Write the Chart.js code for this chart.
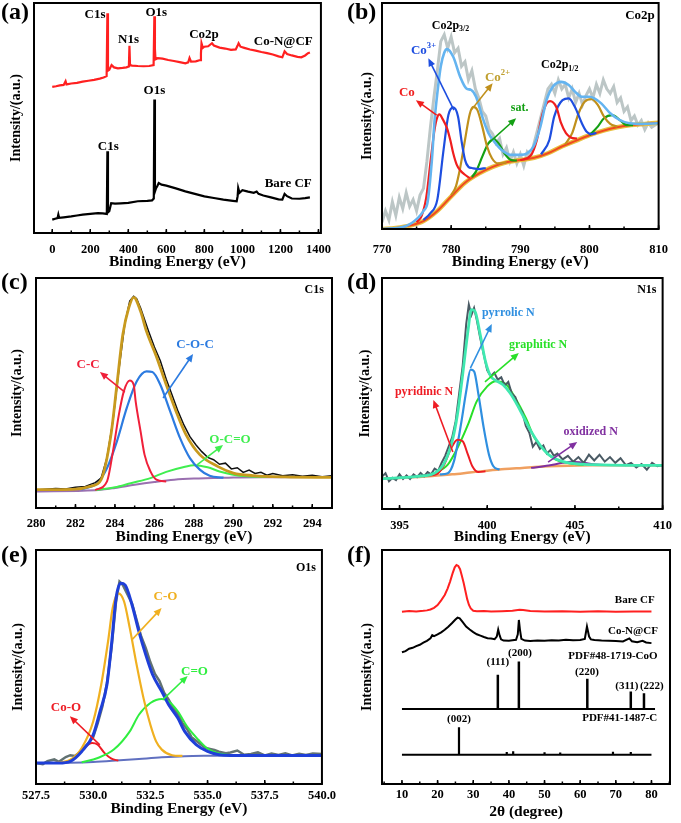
<!DOCTYPE html>
<html>
<head>
<meta charset="utf-8">
<script src="https://cdn.jsdelivr.net/npm/chart.js@4.4.1/dist/chart.umd.min.js"></script>
<style>
body { margin: 0; background: #fff; width: 681px; height: 823px; position: relative; overflow: hidden; }
canvas { position: absolute; }
</style>
</head>
<body>
<canvas id="pa" width="340" height="272" style="left:0;top:0"></canvas>
<canvas id="pb" width="341" height="272" style="left:340px;top:0"></canvas>
<canvas id="pc" width="340" height="280" style="left:0;top:265px"></canvas>
<canvas id="pd" width="341" height="280" style="left:340px;top:265px"></canvas>
<canvas id="pe" width="340" height="285" style="left:0;top:538px"></canvas>
<canvas id="pf" width="341" height="285" style="left:340px;top:538px"></canvas>
<script>
// ---------- data (binding energy / 2theta, relative intensity 0-100) ----------

// (a) survey
const surveyCoN = [[0,63.5],[20,63.8],[40,64.2],[60,64.4],[70,66],[75,64.6],[100,65],[130,65.3],[160,65.8],[190,66.2],[220,66.6],[250,67.1],[270,67.6],[286,68.2],[290,95.5],[293,70.6],[300,71],[312,73],[325,72],[345,71.6],[370,71.8],[390,72],[403,72.4],[406,81.4],[409,73],[420,72.8],[450,72.6],[480,72.5],[510,72.6],[533,73],[537,94.2],[540,80],[543,75.5],[555,76],[580,75.8],[610,75.2],[640,74.8],[670,74.3],[700,73.8],[715,74.2],[722,76.1],[730,74.5],[755,74.6],[778,75.2],[782,78],[785,82.5],[792,80.5],[800,81],[820,81.2],[840,82.5],[850,81.5],[880,80.6],[910,80.2],[940,79.6],[965,79.8],[975,81.5],[980,82.5],[990,81],[1010,80.5],[1040,79.8],[1070,79.3],[1100,78.7],[1130,78.2],[1160,77.6],[1190,76.8],[1210,76.4],[1222,79],[1235,77.8],[1260,77.2],[1290,76.6],[1310,76.4],[1330,77.2],[1345,78.2],[1355,78.5]];
const surveyBare = [[0,5.8],[15,6.2],[28,6.5],[32,8],[36,6.6],[60,6.8],[100,7.2],[130,7.6],[160,8],[200,8.3],[240,8.6],[265,8.5],[287,8.3],[290,35.5],[293,9],[300,9.5],[310,13],[330,12.8],[360,12.9],[400,13.1],[450,13.8],[500,14],[525,14.2],[534,15],[537,58],[540,18],[546,19.5],[552,20.3],[560,21.7],[575,21],[600,20.6],[650,19.4],[700,18.1],[750,17],[800,15.9],[850,15.2],[900,14.5],[950,14],[970,13.8],[975,16],[978,19.6],[985,17.5],[1000,18.6],[1030,18],[1060,17.5],[1075,18],[1085,17],[1110,16.3],[1150,15.5],[1190,14.6],[1210,14.5],[1222,17],[1235,16],[1260,15],[1300,14.9],[1330,15.2],[1355,15.5]];

// (b) Co2p
const co2pRaw = [[770,3],[770.5,8],[771,4],[771.5,12],[772,6],[772.5,14],[773,9],[773.5,16],[774,10],[774.5,13],[775,8],[775.5,15],[776,18],[776.5,30],[777,45],[777.5,58],[778,70],[778.5,83],[779,86],[779.5,80],[780,85],[780.5,78],[781,80],[781.5,72],[782,74],[782.5,66],[783,70],[783.5,62],[784,58],[784.5,52],[785,50],[785.5,44],[786,42],[786.5,38],[787,40],[787.5,33],[788,36],[788.5,30],[789,34],[789.5,29],[790,33],[790.5,28],[791,34],[791.5,32],[792,38],[792.5,44],[793,50],[793.5,56],[794,62],[794.5,64],[795,60],[795.5,66],[796,62],[796.5,64],[797,58],[797.5,62],[798,56],[798.5,60],[799,55],[799.5,59],[800,62],[800.5,58],[801,64],[801.5,60],[802,66],[802.5,62],[803,60],[803.5,63],[804,56],[804.5,58],[805,52],[805.5,54],[806,48],[806.5,50],[807,46],[807.5,48],[808,44],[808.5,47],[809,45],[809.5,46],[810,47]];
const co2pFit = [[770,0],[773.4,1.2],[775.2,4.9],[776,8],[776.6,12],[777.2,30],[777.6,48],[778,60],[778.5,72],[779,78],[779.4,79.6],[780.3,76.2],[781.3,67.4],[782.2,62.2],[782.9,61.5],[783.6,58.5],[784.5,49.7],[785.4,42.4],[786.4,38],[787.3,35],[788.7,32.8],[790,32.8],[791,33.5],[791.9,36.5],[792.9,45.3],[793.8,57.1],[794.7,62.9],[795.9,65.1],[797,63.7],[797.9,60.8],[798.9,58.5],[800,58.5],[800.7,57.8],[801.7,55.6],[803,51.2],[804.4,48.2],[805.8,46.8],[807.7,46.5],[810,46.8]];
const co2pBg = [[770,0],[772,0.5],[774,1.5],[776,3.5],[778,8],[780,14.4],[782,20.5],[784,24.5],[786,27.5],[788,29.5],[790,30.5],[792,31.5],[794,33.5],[796,36.5],[798,39],[800,41.5],[802,43.5],[804,45],[806,46],[808,46.5],[810,47]];
const coMetal32 = [[775,3],[775.7,5.6],[776.4,14],[777.1,32],[777.6,44],[778,49.5],[778.3,50.7],[778.8,48.5],[779.4,44.6],[779.9,39],[780.3,33.5],[780.8,28.5],[781.3,26],[782,24],[782.7,22.5]];
const co3Plus32 = [[776,4],[777,7],[778,13],[778.9,35],[779.6,50.4],[780.3,53.8],[781,49.7],[781.5,39],[782,30.6],[782.5,27.5],[783,27],[784,26.5],[785,27]];
const co2Plus32 = [[780,15],[780.7,19],[781.3,27],[782,39.4],[782.7,51],[783.2,54],[783.8,52.6],[784.5,45.3],[785.2,36.5],[785.9,31.3],[786.8,29],[788,29.5]];
const coSat32 = [[783,23],[783.6,25.5],[784.5,32],[785.4,38],[786.2,39.7],[787,37.2],[787.7,33.5],[788.7,30.5],[789.5,30.3]];
const coMetal12 = [[790,30.5],[791.5,32.5],[792.4,39.4],[793.1,49.7],[793.8,55.6],[794.3,56.6],[795.2,54],[795.9,46.8],[796.6,42.4],[797.3,40.5],[798.2,40]];
const co3Plus12 = [[793,33],[794.2,39.4],[794.9,49.7],[796.1,57],[797,57.8],[797.9,54],[798.9,46.8],[799.6,43],[800.3,42],[801,42.5]];
const co2Plus12 = [[796.5,37.5],[797.5,42.4],[798.4,51],[799.3,56.3],[800.3,57.5],[801.2,54.9],[802.1,49.7],[803,46.5],[804,45.3]];
const coSat12 = [[800,41.5],[801.2,45.3],[802.1,49],[803.3,50.4],[804.4,48.2],[805.4,46],[806.3,46]];

// (c) C1s
const c1sRaw = [[280,7.8],[280.5,8.2],[281,8.5],[281.5,8.3],[282,9],[282.5,9.4],[283,11],[283.3,13],[283.6,22],[283.9,38],[284.2,60],[284.5,80],[284.75,90],[284.95,92],[285.1,91],[285.3,87],[285.5,82],[285.7,77],[286,70],[286.3,64],[286.6,56],[286.9,49],[287.2,42],[287.5,36],[287.8,31],[288.1,27.5],[288.4,24.5],[288.7,22],[289,21],[289.3,19],[289.6,19.5],[289.9,17],[290.2,17.5],[290.5,15.5],[290.8,16.5],[291.1,15],[291.4,15.5],[291.7,14.3],[292,15],[292.5,14],[293,14.5],[293.5,13.8],[294,14.2],[294.5,13.6],[295,14]];
const c1sFit = [[280,8],[281,8],[282,8.2],[282.8,9.5],[283.3,12.3],[283.8,31.9],[284.1,53.6],[284.4,75.4],[284.7,87],[284.95,91.6],[285.3,85.5],[285.6,76.8],[286.1,65.9],[286.6,53.6],[287.1,42],[287.6,31.9],[288.3,23.2],[289.2,18.1],[290,15.2],[291,14.1],[292.6,13.5],[295,13.3]];
const c1sBg = [[280,7.2],[283,7.7],[284,8.7],[285,10.1],[286,11.3],[287,12.3],[288,12.8],[289,13],[290,13.3],[292,13.4],[295,13.5]];
const cc = [[283,7.8],[283.6,11.6],[283.9,24.6],[284.2,40.6],[284.45,50.7],[284.75,55.4],[284.95,53.6],[285.05,46.4],[285.3,33.3],[285.5,23.2],[285.8,15.9],[286.1,12.3],[286.6,11.5]];
const coc = [[282.3,8],[283.1,10.9],[283.6,17.4],[284.1,29],[284.6,43.5],[285.1,55],[285.6,59.4],[285.9,59.1],[286.3,53.6],[286.8,42],[287.3,30.4],[287.8,21.7],[288.3,16.7],[288.8,14],[289.5,13.2]];
const oco = [[283,7.8],[284,9],[284.8,10.8],[285.8,13],[286.6,15.7],[287.5,17.8],[288,18.6],[288.7,17.7],[289.3,15.9],[290,14.5],[290.7,13.8],[291.7,13.5]];

// (d) N1s
const n1sRaw = [[394,14],[394.2,15.5],[394.4,12],[394.6,13.5],[394.8,12.5],[395,15],[395.2,13],[395.4,14.5],[395.6,13],[395.8,15],[396,13.8],[396.2,15.6],[396.4,14.2],[396.6,16],[396.8,15],[397,17.5],[397.2,16.5],[397.4,20],[397.6,23],[397.8,27],[398,31],[398.2,38],[398.4,50],[398.6,62],[398.8,80],[398.95,88.5],[399.1,84],[399.25,87],[399.4,82],[399.6,74],[399.8,67],[400,60],[400.2,57.5],[400.4,59],[400.6,56],[400.8,57],[401,53.5],[401.2,55],[401.4,50],[401.6,48.5],[401.8,44],[402,42],[402.2,36],[402.4,33],[402.6,27],[402.8,29],[403,26],[403.2,27.5],[403.4,24],[403.6,25.5],[403.8,23],[404,24],[404.3,21.5],[404.6,23],[404.9,20.5],[405.2,22.5],[405.5,20],[405.8,23.5],[406.1,21],[406.4,23.5],[406.7,20.5],[407,22.5],[407.3,20],[407.6,22],[407.9,19],[408.2,20],[408.5,18],[408.8,19.5],[409.1,17],[409.4,20],[409.7,18.5],[410,19]];
const n1sFit = [[394,13.1],[396,14.1],[397,15.6],[397.5,19.2],[398,29.3],[398.3,40.8],[398.6,58.2],[398.9,76.9],[399.1,86.3],[399.3,85.6],[399.6,75.5],[399.9,63.9],[400.2,57.4],[400.5,55.6],[400.9,53.8],[401.3,50.2],[401.7,45.2],[402.1,39.4],[402.5,33.6],[403,27.8],[403.5,23.5],[404,21.4],[404.5,20.2],[405,19.6],[406,19.2],[408,18.9],[410,18.9]];
const n1sBg = [[394,13.2],[395,13.4],[396,13.8],[397,14.4],[398,15],[399,15.8],[400,16.6],[401,17.3],[402,17.8],[403,18.3],[404,18.6],[406,18.9],[410,18.9]];
const pyridinicN = [[396.6,14.5],[397.1,15],[397.5,18.5],[397.95,26.4],[398.3,30],[398.6,29.3],[398.9,23.5],[399.15,18.5],[399.5,16],[399.9,16.3]];
const pyrrolicN = [[397.3,15],[397.75,15.5],[398.1,20.6],[398.5,36.5],[398.8,50.9],[399.05,60.3],[399.25,59.6],[399.5,49.5],[399.8,35.1],[400.1,23.5],[400.35,18.5],[400.7,17]];
const graphiticN = [[396.5,14.3],[397,15.5],[397.75,19.2],[398.3,26.4],[398.9,36.5],[399.4,46.6],[400,53.1],[400.5,55.3],[401.1,53.8],[401.6,48],[402.2,39.4],[402.7,30.7],[403.3,25],[403.85,21.6],[404.6,19.9],[405.5,19]];
const oxidizedN = [[402.5,17.8],[403.5,18.8],[404.3,20],[404.8,20.5],[405.4,20.1],[406.2,19.3],[407,19]];

// (e) O1s
const o1sRaw = [[527.5,9],[527.8,8.5],[528,9.8],[528.3,10.5],[528.5,9.5],[528.8,11.5],[529,12.3],[529.2,12],[529.4,13.5],[529.6,15.5],[529.8,17.5],[530,20],[530.2,26],[530.4,33],[530.6,43],[530.8,58],[531,78],[531.15,86.5],[531.3,85],[531.5,81],[531.7,77],[531.9,70],[532.1,63],[532.3,58],[532.5,52],[532.7,47],[532.9,44],[533.1,39],[533.3,36],[533.5,32.5],[533.7,30],[533.9,26],[534.1,23.5],[534.3,20],[534.5,18.5],[534.7,17],[534.9,15.5],[535.1,15],[535.3,14.5],[535.5,13.8],[535.8,13.2],[536,13.5],[536.3,14.3],[536.6,12.5],[536.9,12.8],[537.2,13.5],[537.5,12.2],[537.8,13],[538.1,12.4],[538.4,13.1],[538.7,12.2],[539,12.9],[539.3,12.4],[539.6,13],[540,12.8]];
const o1sFit = [[527.5,9],[528.5,9],[529,9.7],[529.5,13.9],[530,21],[530.3,31],[530.6,42.4],[530.8,59.5],[531,79.4],[531.2,85.8],[531.4,85],[531.7,76.5],[532,65.1],[532.3,55.2],[532.6,46.7],[533,39.5],[533.3,33.9],[533.7,28.2],[534,22.5],[534.5,16.8],[535,13.9],[535.5,12.5],[536,12.2],[537,12.2],[540,12.2]];
const o1sBg = [[527.5,9],[529,9.1],[530,9.4],[531,10],[532,10.7],[533,11.4],[534,11.9],[535,12.1],[536,12.2],[540,12.2]];
const coO = [[528.8,9.2],[529.2,11.1],[529.6,15.4],[529.95,17.5],[530.2,16.8],[530.5,13.2],[530.8,10.8],[531.1,10]];
const cO = [[528.3,9],[529,10.4],[529.5,15.4],[530,26.7],[530.35,42.4],[530.65,60.9],[530.85,75.1],[531.1,81.5],[531.35,78],[531.6,66.6],[531.9,50.9],[532.2,36.7],[532.5,25.3],[532.75,18.2],[533,14.7],[533.45,12.3],[533.9,12]];
const cDoubleO = [[529.5,9.3],[530.2,11.1],[530.9,14.7],[531.6,22.5],[532,29.6],[532.5,34.6],[533,36.3],[533.3,35.3],[533.7,31],[534.1,24.6],[534.6,18.9],[535,15.1],[535.6,12.8],[536.1,12.2]];

// (f) XRD
const xrdBare = [[10,73.6],[12,73.9],[14,73.7],[16,74],[17,74.2],[18,74.6],[19,75.3],[20,76.5],[21,78.5],[22,80.8],[22.8,83.5],[23.5,86.5],[24.2,90],[24.8,92.6],[25.3,93.6],[25.8,93.2],[26.3,91.8],[26.8,89],[27.3,86],[27.8,82.5],[28.3,79],[28.8,76.5],[29.3,75],[30,74],[31,73.8],[33,73.9],[35,73.7],[38,73.8],[41,74],[43,74.5],[44,74.4],[46,73.9],[50,73.7],[55,73.8],[60,73.6],[65,73.8],[70,73.6],[75,73.7],[80,73.7]];
const xrdCoN = [[10,56.3],[11,56.8],[12,57.8],[13,58.2],[14,58.9],[15,59.5],[16,60.4],[17,61.2],[18,62.3],[18.5,63.6],[19,63.2],[20,63.9],[21,64.8],[22,65.9],[23,67.2],[24,68.7],[25,70.3],[25.6,71.1],[26.2,70.8],[27,69.3],[28,67.3],[29,66],[30,64.9],[31,64],[32,63.4],[33,62.8],[34,62.3],[35,62.2],[36,61.9],[36.6,63],[37,66],[37.4,63.5],[37.8,61.8],[38.5,61.3],[40,61.2],[41,61.4],[42,61.6],[42.5,64],[42.8,70.1],[43.1,66],[43.5,62],[44.5,61.3],[46,61.1],[48,61.3],[50,61.2],[52,61.4],[54,61.3],[56,61.6],[58,61.4],[60,61.5],[61.3,62],[61.9,67.3],[62.5,63],[63,61.8],[64,61.5],[66,61.3],[68,61.2],[70,61.1],[72,60.9],[73.8,62.2],[74.5,61],[76,60.6],[77.5,61.2],[78.5,60.5],[80,60.2]];
const coOPos = [36.9, 42.8, 62.0, 74.2, 77.9];
const coOTop = [46.7, 52.3, 45.0, 39.5, 38.8];
const coOBase = 32;
const coOLine = [[10,32],[81,32]];
const carbonPos = [26.0, 39.4, 41.2, 50.0, 54.4, 69.2, 74.2];
const carbonTop = [24.2, 13.7, 14.0, 13.6, 13.5, 13.8, 13.7];
const carbonBase = 12.5;
const carbonLine = [[10,12.5],[80,12.5]];

// ---------- drawing helpers ----------
const SERIF = '"Liberation Serif", "Times New Roman", serif';

function curve(pts, color, width, smooth)
{
    return {
        data: pts.map(p => ({ x: p[0], y: p[1] })),
        borderColor: color,
        borderWidth: width,
        pointRadius: 0,
        fill: false,
        tension: smooth ? 0.4 : 0,
        cubicInterpolationMode: smooth ? "monotone" : "default"
    };
}

function sticks(pos, top, base, color, width)
{
    let data = [];
    pos.forEach((x, i) => {
        data.push({ x: x, y: base });
        data.push({ x: x, y: top[i] });
        data.push({ x: x, y: null });
    });
    return { data: data, borderColor: color, borderWidth: width, pointRadius: 0, fill: false, spanGaps: false };
}

function txt(s, x, y, color, size)
{
    return { parts: Array.isArray(s) ? s : [[s, 0]], x: x, y: y, color: color, size: size };
}

function drawRich(ctx, parts, x, y, size, color)
{
    let w = 0;
    parts.forEach(p => {
        ctx.font = "bold " + (p[1] ? size * 0.66 : size) + "px " + SERIF;
        w += ctx.measureText(p[0]).width;
    });
    let cx = x - w / 2;
    ctx.fillStyle = color;
    ctx.textAlign = "left";
    ctx.textBaseline = "middle";
    parts.forEach(p => {
        let s = p[1] ? size * 0.66 : size;
        ctx.font = "bold " + s + "px " + SERIF;
        let dy = p[1] === 1 ? -size * 0.35 : (p[1] === -1 ? size * 0.3 : 0);
        ctx.fillText(p[0], cx, y + dy);
        cx += ctx.measureText(p[0]).width;
    });
}

function drawArrow(ctx, x1, y1, x2, y2, color)
{
    let ang = Math.atan2(y2 - y1, x2 - x1), L = 8, W = 3.5;
    ctx.strokeStyle = color;
    ctx.lineWidth = 1.6;
    ctx.beginPath();
    ctx.moveTo(x1, y1);
    ctx.lineTo(x2 - Math.cos(ang) * L * 0.7, y2 - Math.sin(ang) * L * 0.7);
    ctx.stroke();
    ctx.fillStyle = color;
    ctx.beginPath();
    ctx.moveTo(x2, y2);
    ctx.lineTo(x2 - L * Math.cos(ang) + W * Math.sin(ang), y2 - L * Math.sin(ang) - W * Math.cos(ang));
    ctx.lineTo(x2 - L * Math.cos(ang) - W * Math.sin(ang), y2 - L * Math.sin(ang) + W * Math.cos(ang));
    ctx.closePath();
    ctx.fill();
}

const deco = {
    id: "deco",
    afterDraw(chart, args, o)
    {
        const ctx = chart.ctx, a = chart.chartArea;
        const sx = chart.scales.x, sy = chart.scales.y;
        ctx.save();
        (o.arrows || []).forEach(r => drawArrow(ctx,
            sx.getPixelForValue(r[0]), sy.getPixelForValue(r[1]),
            sx.getPixelForValue(r[2]), sy.getPixelForValue(r[3]), r[4]));
        (o.texts || []).forEach(t => drawRich(ctx, t.parts,
            sx.getPixelForValue(t.x), sy.getPixelForValue(t.y), t.size, t.color));

        // frame
        ctx.strokeStyle = "#000";
        ctx.lineWidth = 2;
        ctx.strokeRect(a.left, a.top, a.right - a.left, a.bottom - a.top);

        // inward ticks on the bottom axis
        ctx.lineWidth = 1.5;
        sx.ticks.forEach(t => {
            let p = sx.getPixelForValue(t.value);
            ctx.beginPath(); ctx.moveTo(p, a.bottom); ctx.lineTo(p, a.bottom - 4); ctx.stroke();
        });
        if (o.minor) {
            let n0 = Math.ceil(sx.min / o.minor), n1 = Math.floor(sx.max / o.minor);
            for (let n = n0; n <= n1; n++) {
                let p = sx.getPixelForValue(n * o.minor);
                ctx.beginPath(); ctx.moveTo(p, a.bottom); ctx.lineTo(p, a.bottom - 2.5); ctx.stroke();
            }
        }

        // panel letter
        ctx.font = "bold 24px " + SERIF;
        ctx.fillStyle = "#000";
        ctx.textAlign = "left";
        ctx.textBaseline = "middle";
        ctx.fillText(o.label, o.lx, o.ly);
        ctx.restore();
    }
};

function makePanel(id, p)
{
    new Chart(
        document.getElementById(id),
        {
            type: "line",
            data: { datasets: p.datasets },
            options: {
                responsive: false,
                animation: false,
                events: [],
                layout: { autoPadding: false, padding: { top: p.top, right: p.right, bottom: 0, left: 0 } },
                plugins: { legend: { display: false }, tooltip: { enabled: false }, deco: p.deco },
                scales: {
                    x: {
                        type: "linear",
                        min: p.xmin,
                        max: p.xmax,
                        grid: { display: false, drawTicks: false },
                        border: { display: false },
                        ticks: {
                            stepSize: p.step,
                            includeBounds: false,
                            autoSkip: false,
                            maxRotation: 0,
                            padding: p.tickPad,
                            color: "#000",
                            font: { family: SERIF, weight: "bold", size: 12.5 },
                            callback: p.fmt || (v => v)
                        },
                        title: {
                            display: true,
                            text: p.xTitle,
                            color: "#000",
                            font: { family: SERIF, weight: "bold", size: 15.5, lineHeight: 1 },
                            padding: { top: 0, bottom: p.titlePad }
                        },
                        afterFit: s => { s.height = p.xh; }
                    },
                    y: {
                        min: 0,
                        max: 100,
                        ticks: { display: false },
                        grid: { display: false, drawTicks: false },
                        border: { display: false },
                        title: {
                            display: true,
                            text: "Intensity/(a.u.)",
                            color: "#000",
                            font: { family: SERIF, weight: "bold", size: 14, lineHeight: 1 },
                            padding: { top: p.yPad, bottom: 0 }
                        },
                        afterFit: s => { s.width = p.yw; }
                    }
                }
            },
            plugins: [deco]
        }
    );
}

// ---------- panels ----------
makePanel("pa", {
    top: 3, right: 6, yw: 34, xh: 39, tickPad: 9, titlePad: 2.5, yPad: 9,
    xmin: -96, xmax: 1413, step: 200, xTitle: "Binding Energy (eV)",
    datasets: [
        curve(surveyCoN, "#ff2020", 2.2, false),
        curve(surveyBare, "#000000", 2.2, false)
    ],
    deco: {
        label: "(a)", lx: 1, ly: 13, minor: 100,
        texts: [
            txt("C1s", 225, 94.8, "#000", 13),
            txt("N1s", 401, 83.9, "#000", 13),
            txt("O1s", 547, 95.7, "#000", 13),
            txt("Co2p", 798, 86.1, "#000", 13),
            txt("Co-N@CF", 1215, 83, "#000", 13),
            txt("O1s", 537, 61.7, "#000", 13),
            txt("C1s", 295, 37.4, "#000", 13),
            txt("Bare CF", 1241, 21.3, "#000", 13)
        ]
    }
});

makePanel("pb", {
    top: 3, right: 11, yw: 42, xh: 43, tickPad: 13, titlePad: 2.5, yPad: 20,
    xmin: 770, xmax: 810, step: 10, xTitle: "Binding Energy (eV)",
    datasets: [
        curve(co2pFit, "#64b4f0", 2.6, true),
        curve(coMetal32, "#f01e1e", 2.2, true),
        curve(co3Plus32, "#1e4ee0", 2.2, true),
        curve(co2Plus32, "#c0901c", 2.2, true),
        curve(coSat32, "#14a014", 2.2, true),
        curve(coMetal12, "#f01e1e", 2.2, true),
        curve(co3Plus12, "#1e4ee0", 2.2, true),
        curve(co2Plus12, "#c0901c", 2.2, true),
        curve(coSat12, "#14a014", 2.2, true),
        curve(co2pBg, "#f04a20", 2, true),
        curve(co2pBg, "#e8c040", 4.5, true),
        curve(co2pRaw, "#bcc6c6", 3, false)
    ],
    deco: {
        label: "(b)", lx: 7, ly: 13, minor: 5,
        arrows: [
            [777.9, 50.4, 774.9, 57, "#f01e1e"],
            [780.4, 52.6, 776.7, 75.5, "#1e4ee0"],
            [782.9, 52.6, 786, 64.5, "#c0901c"],
            [785.4, 38, 789.4, 49, "#14a014"]
        ],
        texts: [
            txt([["Co2p", 0], ["3/2", -1]], 779.9, 90, "#000", 12),
            txt([["Co2p", 0], ["1/2", -1]], 795.7, 72.5, "#000", 12),
            txt("Co2p", 807.3, 94.5, "#000", 13),
            txt("Co", 773.6, 60.5, "#f01e1e", 13),
            txt([["Co", 0], ["3+", 1]], 776, 79, "#1e4ee0", 13),
            txt([["Co", 0], ["2+", 1]], 786.7, 67, "#c0a030", 13),
            txt("sat.", 789.9, 53.5, "#14a014", 12)
        ]
    }
});

makePanel("pc", {
    top: 13, right: 8, yw: 36, xh: 37, tickPad: 8, titlePad: 0.5, yPad: 10,
    xmin: 280, xmax: 295, step: 2, xTitle: "Binding Energy (eV)",
    datasets: [
        curve(c1sFit, "#c89a1e", 2.8, true),
        curve(c1sRaw, "#111111", 1.5, false),
        curve(cc, "#f0203a", 2, true),
        curve(coc, "#2c7be0", 2.2, true),
        curve(oco, "#40ee50", 2, true),
        curve(c1sBg, "#9a70b0", 2, true)
    ],
    deco: {
        label: "(c)", lx: 1, ly: 18, minor: 1,
        arrows: [
            [284.5, 50.4, 283.24, 59.1, "#f0203a"],
            [286.44, 47.8, 287.96, 67, "#2c7be0"],
            [288.16, 18.7, 289.48, 27.4, "#40ee50"]
        ],
        texts: [
            txt("C1s", 294.1, 94.8, "#000", 12),
            txt("C-C", 282.64, 62.2, "#f0203a", 13),
            txt("C-O-C", 288.06, 70.9, "#2c7be0", 13),
            txt("O-C=O", 289.83, 29.6, "#40ee50", 13)
        ]
    }
});

makePanel("pd", {
    top: 13, right: 10, yw: 42, xh: 36, tickPad: 9, titlePad: 0.5, yPad: 18,
    xmin: 394, xmax: 410, step: 5, xTitle: "Binding Energy (eV)",
    datasets: [
        curve(n1sFit, "#40e8b0", 2.8, true),
        curve(n1sRaw, "#4a5a64", 2, false),
        curve(pyridinicN, "#ee1c24", 2, true),
        curve(pyrrolicN, "#2f8fe0", 2.2, true),
        curve(graphiticN, "#28e028", 2, true),
        curve(oxidizedN, "#8030a0", 2, true),
        curve(n1sBg, "#f0a060", 2.5, true)
    ],
    deco: {
        label: "(d)", lx: 7, ly: 18, minor: 2.5,
        arrows: [
            [399.04, 61, 400.26, 80.1, "#2f8fe0"],
            [399.87, 55, 401.8, 67.5, "#28e028"],
            [398.04, 24.7, 396.93, 47.2, "#ee1c24"],
            [403.47, 20.3, 405.13, 29, "#8030a0"]
        ],
        texts: [
            txt("N1s", 409.1, 94.8, "#000", 12),
            txt("pyrrolic N", 401.2, 84.8, "#2f8fe0", 12),
            txt("graphitic N", 402.9, 71, "#28e028", 12),
            txt("pyridinic N", 396.4, 50.6, "#ee1c24", 12),
            txt("oxidized N", 405.9, 33.3, "#8030a0", 12)
        ]
    }
});

makePanel("pe", {
    top: 12, right: 8, yw: 36, xh: 39, tickPad: 4, titlePad: 6.5, yPad: 11,
    xmin: 527.5, xmax: 540, step: 2.5, xTitle: "Binding Energy (eV)",
    fmt: v => v.toFixed(1),
    datasets: [
        curve(o1sFit, "#1f3fd8", 3, true),
        curve(cO, "#f0b020", 2.2, true),
        curve(cDoubleO, "#30ee40", 2, true),
        curve(coO, "#ee1c24", 2, true),
        curve(o1sRaw, "#627272", 2.5, false),
        curve(o1sBg, "#6070c0", 2, true)
    ],
    deco: {
        label: "(e)", lx: 1, ly: 18, minor: 1.25,
        arrows: [
            [531.68, 61.5, 532.99, 75.2, "#f0b020"],
            [533.07, 36.3, 534.13, 46.2, "#30ee40"],
            [530.29, 16.7, 528.98, 29, "#ee1c24"]
        ],
        texts: [
            txt("O1s", 539.3, 92.3, "#000", 12),
            txt("C-O", 533.16, 79.9, "#f0b020", 13),
            txt("C=O", 534.43, 47.9, "#30ee40", 13),
            txt("Co-O", 528.81, 32.5, "#ee1c24", 13)
        ]
    }
});

makePanel("pf", {
    top: 12, right: 11, yw: 42, xh: 39, tickPad: 3, titlePad: 3.5, yPad: 20,
    xmin: 4.4, xmax: 85.2, step: 10, xTitle: "2\u03b8 (degree)",
    datasets: [
        curve(xrdBare, "#ff2020", 2, false),
        curve(xrdCoN, "#000000", 2, false),
        sticks(coOPos, coOTop, coOBase, "#000", 2.5),
        curve(coOLine, "#000", 2, false),
        sticks(carbonPos, carbonTop, carbonBase, "#000", 2.2),
        curve(carbonLine, "#000", 2, false)
    ],
    deco: {
        label: "(f)", lx: 7, ly: 18, minor: 5,
        texts: [
            txt("Bare CF", 75.3, 78.6, "#000", 11),
            txt("Co-N@CF", 74.8, 65.4, "#000", 11),
            txt("PDF#48-1719-CoO", 69.2, 54.7, "#000", 11),
            txt("(111)", 36.9, 52.1, "#000", 11),
            txt("(200)", 43.1, 56, "#000", 11),
            txt("(220)", 61.9, 47.9, "#000", 11),
            txt("(311)", 73.1, 41.9, "#000", 11),
            txt("(222)", 80.1, 41.9, "#000", 11),
            txt("PDF#41-1487-C", 71.1, 28.2, "#000", 11),
            txt("(002)", 26, 27.8, "#000", 11)
        ]
    }
});
</script>
</body>
</html>
